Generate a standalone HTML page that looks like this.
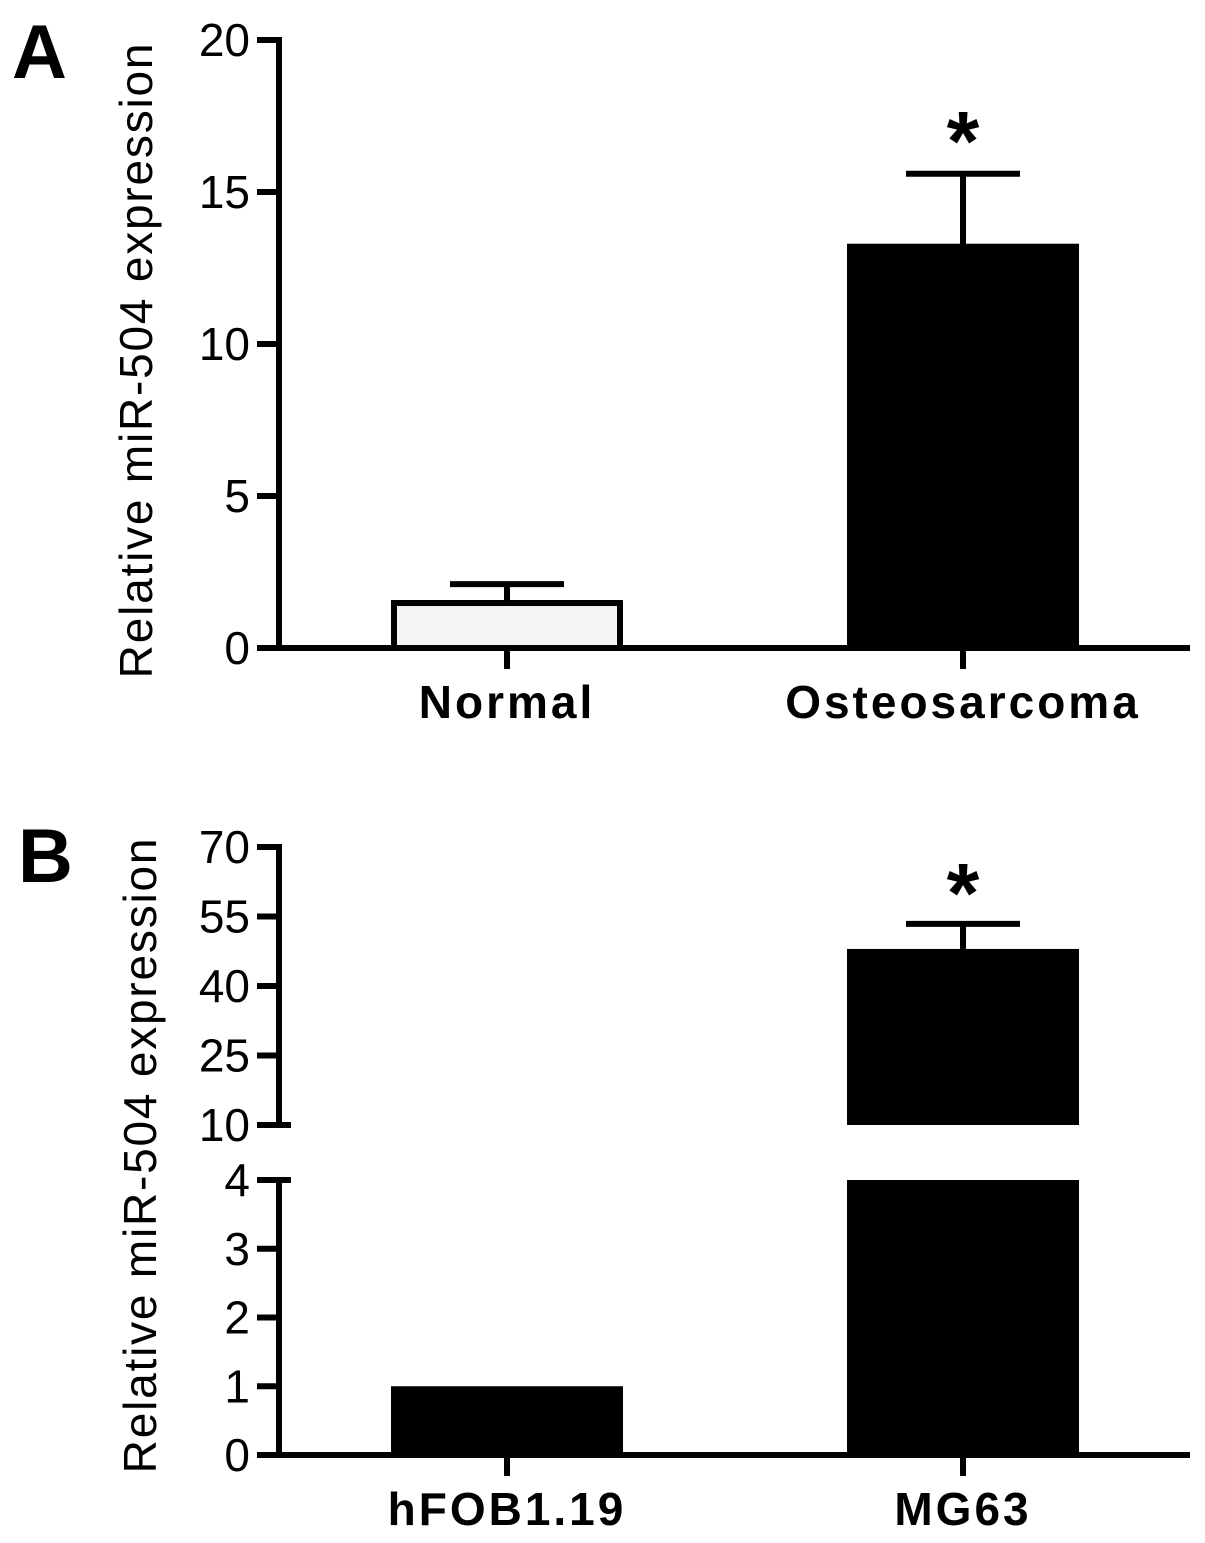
<!DOCTYPE html>
<html><head><meta charset="utf-8"><style>body{margin:0;background:#fff}svg{display:block}text{font-family:"Liberation Sans",Arial,sans-serif;fill:#000}</style></head>
<body>
<svg id="c" width="1205" height="1543"></svg>
<script>
const aCats=["Normal","Osteosarcoma"];
const aVals=[1.48,13.2];
const aErr=[0.62,2.4];
const aTicks=[0,5,10,15,20];
const bCats=["hFOB1.19","MG63"];
const bVals=[1.0,48];
const bErr=[0,5.4];
const bTicksLow=[0,1,2,3,4];
const bTicksHigh=[10,25,40,55,70];
const NS="http://www.w3.org/2000/svg";
const svg=document.getElementById('c');
function el(t,a,txt){const e=document.createElementNS(NS,t);for(const k in a)e.setAttribute(k,a[k]);if(txt!==undefined)e.textContent=txt;svg.appendChild(e);return e;}
const AX=279, XEND=1190, xs=[507,963], BW=232, SW=6;
// Panel A
const yA=v=>648-v*30.4;
let e=el('text',{x:12,y:78,'font-size':76,'font-weight':'bold'},'A');


e=el('line',{x1:AX,y1:yA(20)-3,x2:AX,y2:651,stroke:'#000','stroke-width':SW});


e=el('line',{x1:AX-3,y1:648,x2:XEND,y2:648,stroke:'#000','stroke-width':SW});


aTicks.forEach(t=>{
 e=el('line',{x1:257,y1:yA(t),x2:AX,y2:yA(t),stroke:'#000','stroke-width':SW});
 
 
 e=el('text',{x:250,y:yA(t)+16,'font-size':46,'text-anchor':'end'},t);
 
 
});
e=el('text',{transform:'translate(152,360) rotate(-90)','font-size':46,'text-anchor':'middle','letter-spacing':1.8},'Relative miR-504 expression');


aCats.forEach((c,i)=>{
 const x=xs[i];
 const top=yA(aVals[i]+aErr[i]);
 e=el('line',{x1:x,y1:top,x2:x,y2:yA(aVals[i]),stroke:'#000','stroke-width':SW});
 
 
 e=el('line',{x1:x-57,y1:top,x2:x+57,y2:top,stroke:'#000','stroke-width':SW});
 
 
 e=el('rect',{x:x-BW/2+3,y:yA(aVals[i]),width:BW-6,height:648-yA(aVals[i]),fill:i?'#000':'#f4f4f4',stroke:'#000','stroke-width':SW});
 
 
 e=el('line',{x1:x,y1:648,x2:x,y2:669,stroke:'#000','stroke-width':SW});
 
 
 e=el('text',{x:x,y:718,'font-size':46,'font-weight':'bold','text-anchor':'middle','letter-spacing':3},c);
 
 
});
e=el('text',{x:xs[1],y:170,'font-size':84,'font-weight':'bold','text-anchor':'middle'},'*');


// Panel B
const yL=v=>1455-v*68.75;
const yH=v=>1125-(v-10)*4.633;
e=el('text',{x:18,y:882,'font-size':76,'font-weight':'bold'},'B');


e=el('line',{x1:AX,y1:yH(70)-3,x2:AX,y2:1125,stroke:'#000','stroke-width':SW});


e=el('line',{x1:AX,y1:yL(4),x2:AX,y2:1458,stroke:'#000','stroke-width':SW});


e=el('line',{x1:AX-3,y1:1455,x2:XEND,y2:1455,stroke:'#000','stroke-width':SW});


bTicksHigh.forEach(t=>{
 e=el('line',{x1:257,y1:yH(t),x2:t===10?291:AX,y2:yH(t),stroke:'#000','stroke-width':SW});
 
 
 e=el('text',{x:250,y:yH(t)+16,'font-size':46,'text-anchor':'end'},t);
 
 
});
bTicksLow.forEach(t=>{
 e=el('line',{x1:257,y1:yL(t),x2:t===4?291:AX,y2:yL(t),stroke:'#000','stroke-width':SW});
 
 
 e=el('text',{x:250,y:yL(t)+16,'font-size':46,'text-anchor':'end'},t);
 
 
});
e=el('text',{transform:'translate(156,1155) rotate(-90)','font-size':46,'text-anchor':'middle','letter-spacing':1.8},'Relative miR-504 expression');


bCats.forEach((c,i)=>{
 const x=xs[i], v=bVals[i];
 if(v>10){
  const top=yH(v+bErr[i]);
  e=el('line',{x1:x,y1:top,x2:x,y2:yH(v),stroke:'#000','stroke-width':SW});
  
  
  e=el('line',{x1:x-57,y1:top,x2:x+57,y2:top,stroke:'#000','stroke-width':SW});
  
  
  e=el('rect',{x:x-BW/2,y:yH(v),width:BW,height:yH(10)-yH(v),fill:'#000'});
  
  
 }
 const lt=yL(Math.min(v,4));
 e=el('rect',{x:x-BW/2,y:lt,width:BW,height:1455-lt,fill:'#000'});
 
 
 e=el('line',{x1:x,y1:1455,x2:x,y2:1476,stroke:'#000','stroke-width':SW});
 
 
 e=el('text',{x:x,y:1525,'font-size':46,'font-weight':'bold','text-anchor':'middle','letter-spacing':3},c);
 
 
});
e=el('text',{x:xs[1],y:922,'font-size':84,'font-weight':'bold','text-anchor':'middle'},'*');


</script>
</body></html>
